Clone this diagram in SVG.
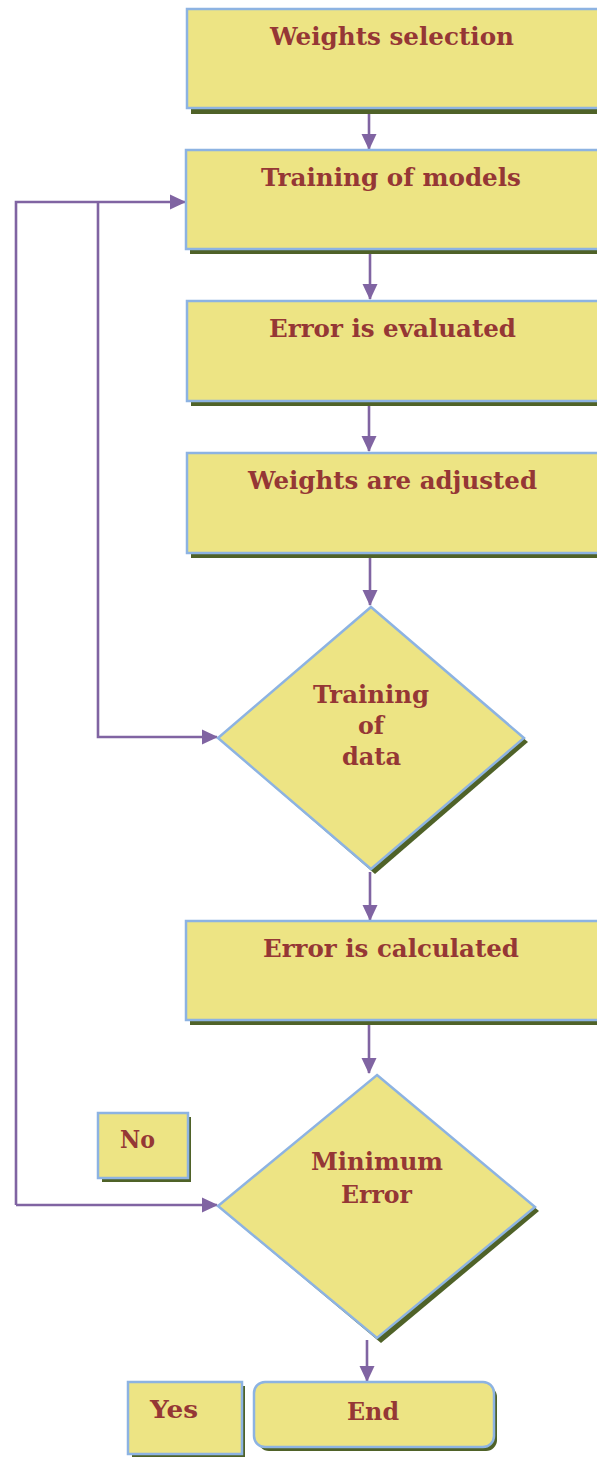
<svg xmlns="http://www.w3.org/2000/svg" width="597" height="1457" viewBox="0 0 597 1457">
<defs>
<style>
.box{fill:#EDE484;stroke:#8DB3E2;stroke-width:2.5}
.sh{fill:#4F6228}
.t{font-family:"DejaVu Serif","Liberation Serif",serif;font-weight:bold;font-size:24px;fill:#953735}
.c{fill:none;stroke:#8064A2;stroke-width:2.6}
</style>
<marker id="ah2" markerWidth="16" markerHeight="16" refX="15" refY="8" orient="auto" markerUnits="userSpaceOnUse" viewBox="0 0 16 16">
<path d="M0,0.5 L16,8 L0,15.5 z" fill="#8064A2"/>
</marker>
</defs>
<rect width="597" height="1457" fill="#fff"/>

<g id="connectors">
<path class="c" d="M369,97 V149" marker-end="url(#ah2)"/>
<path class="c" d="M370,251 V299" marker-end="url(#ah2)"/>
<path class="c" d="M369,403 V451" marker-end="url(#ah2)"/>
<path class="c" d="M370,555 V605" marker-end="url(#ah2)"/>
<path class="c" d="M370,872 V920" marker-end="url(#ah2)"/>
<path class="c" d="M369,1022 V1073" marker-end="url(#ah2)"/>
<path class="c" d="M367,1340 V1381" marker-end="url(#ah2)"/>
<path class="c" d="M16,1205 V202 H185" marker-end="url(#ah2)"/>
<path class="c" d="M98,202 V737 H217" marker-end="url(#ah2)"/>
<path class="c" d="M16,1205 H217" marker-end="url(#ah2)"/>
</g>

<g id="n1">
<rect class="sh" x="191" y="14" width="406" height="100"/>
<rect class="box" x="187" y="9" width="412" height="99"/>
<text class="t" x="270" y="45" textLength="244" lengthAdjust="spacingAndGlyphs">Weights selection</text>
</g>
<g id="n2">
<rect class="sh" x="190" y="155" width="407" height="99"/>
<rect class="box" x="186" y="150" width="413" height="99"/>
<text class="t" x="261" y="186" textLength="260" lengthAdjust="spacingAndGlyphs">Training of models</text>
</g>
<g id="n3">
<rect class="sh" x="191" y="306" width="406" height="100"/>
<rect class="box" x="187" y="301" width="412" height="100"/>
<text class="t" x="269" y="337" textLength="247" lengthAdjust="spacingAndGlyphs">Error is evaluated</text>
</g>
<g id="n4">
<rect class="sh" x="191" y="458" width="406" height="100"/>
<rect class="box" x="187" y="453" width="412" height="100"/>
<text class="t" x="248" y="489" textLength="289" lengthAdjust="spacingAndGlyphs">Weights are adjusted</text>
</g>
<g id="n5">
<polygon class="sh" points="375,611 528,742 375,874 222,742"/>
<polygon class="box" points="371,607 524,738 371,869 218,738"/>
<text class="t" x="313" y="703" textLength="116" lengthAdjust="spacingAndGlyphs">Training</text>
<text class="t" x="358" y="734" textLength="26" lengthAdjust="spacingAndGlyphs">of</text>
<text class="t" x="342" y="765" textLength="59" lengthAdjust="spacingAndGlyphs">data</text>
</g>
<g id="n6">
<rect class="sh" x="190" y="926" width="407" height="99"/>
<rect class="box" x="186" y="921" width="413" height="99"/>
<text class="t" x="263" y="957" textLength="256" lengthAdjust="spacingAndGlyphs">Error is calculated</text>
</g>
<g id="n7">
<polygon class="sh" points="381,1079 539,1211 381,1343 222,1210"/>
<polygon class="box" points="377,1075 535,1207 377,1338 218,1206"/>
<text class="t" x="311" y="1170" textLength="132" lengthAdjust="spacingAndGlyphs">Minimum</text>
<text class="t" x="341" y="1203" textLength="71" lengthAdjust="spacingAndGlyphs">Error</text>
</g>
<g id="n8">
<rect class="sh" x="102" y="1117" width="89" height="65"/>
<rect class="box" x="98" y="1113" width="90" height="65"/>
<text class="t" x="120" y="1148" textLength="35" lengthAdjust="spacingAndGlyphs">No</text>
</g>
<g id="n9">
<rect class="sh" x="132" y="1386" width="113" height="71"/>
<rect class="box" x="128" y="1382" width="114" height="72"/>
<text class="t" x="150" y="1418" textLength="48" lengthAdjust="spacingAndGlyphs">Yes</text>
</g>
<g id="n10">
<rect class="sh" x="258" y="1386" width="239" height="65" rx="11"/>
<rect class="box" x="254" y="1382" width="240" height="65" rx="11"/>
<text class="t" x="347" y="1420" textLength="52" lengthAdjust="spacingAndGlyphs">End</text>
</g>
</svg>
